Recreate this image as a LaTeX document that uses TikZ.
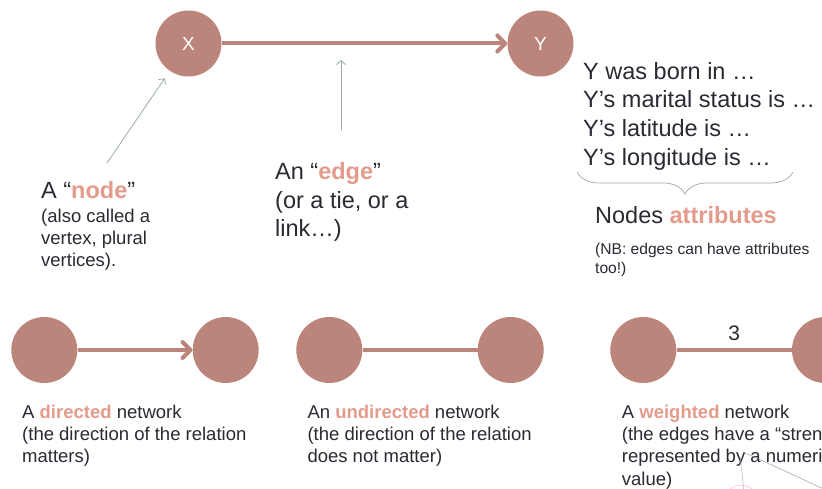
\documentclass[tikz,border=0pt]{standalone}
\usepackage{fontspec}
\setmainfont{Liberation Sans}
\usetikzlibrary{arrows.meta,decorations.pathreplacing}
\definecolor{vert}{HTML}{BC857B}
\definecolor{hl}{HTML}{E49B8C}
\definecolor{ink}{HTML}{2A2A33}
\definecolor{pointer}{HTML}{9AABA5}
\newcommand{\hi}[1]{\textcolor{hl}{\textbf{#1}}}
% multi-line labels are placed by the baseline of their last line
\tikzset{
  vertex/.style={circle, fill=vert, minimum size=66pt, inner sep=0pt,
    text=white, font=\fontsize{19}{23}\selectfont},
  tie/.style={draw=vert, line width=4pt},
  arc/.style={tie, -{Straight Barb[length=8pt, width=16pt, round]}},
  pointer/.style={draw=pointer, line width=0.8pt,
    -{Straight Barb[length=4pt, width=9pt]}},
  lbl/.style={anchor=base west, inner sep=0pt, text=ink, align=left},
  big/.style={font=\fontsize{23.5}{28.6}\selectfont},
  mid/.style={font=\fontsize{18.5}{22.2}\selectfont},
  small/.style={font=\fontsize{15.6}{19}\selectfont},
}
\begin{document}
\begin{tikzpicture}[x=1pt, y=-1pt]
\clip (0,0) rectangle (822,489);
\fill[white] (0,0) rectangle (822,489);

% top: one directed edge between two vertices
\node[vertex] (X) at (188.5,43.5) {X};
\node[vertex] (Y) at (540.5,43.5) {Y};
\draw[arc] (X) -- (Y);

% explanations for the node and the edge
\node[lbl, big] (nodeT) at (41,199) {A “\hi{node}”};
\node[lbl, mid] (nodeB) at (41,266.7) {(also called a\\vertex, plural\\vertices).};
\node[lbl, big] (edgeT) at (275,236.7) {An “\hi{edge}”\\(or a tie, or a\\link…)};
\coordinate (p1) at (107,163);
\draw[pointer, shorten >=9pt] (p1) -- (X);
\coordinate (p2) at (341,130);
\coordinate (p2tip) at (341,60);
\draw[pointer] (p2) -- (p2tip);

% attributes of Y
\node[lbl, big] (attrs) at (583,165.1) {Y was born in …\\Y’s marital status is …\\Y’s latitude is …\\Y’s longitude is …};
\coordinate (bl) at (577,172);
\coordinate (br) at (793,172);
\draw[pointer, -, line width=0.7pt, decorate,
  decoration={brace, mirror, amplitude=22pt, aspect=0.5}] (bl) -- (br);
\node[lbl, big] (attrT) at (595,223.3) {Nodes \hi{attributes}};
\node[lbl, small] (attrN) at (595,273) {(NB: edges can have attributes\\too!)};

% bottom: three kinds of network
\node[vertex] (a1) at (44.3,350) {};
\node[vertex] (a2) at (225.7,350) {};
\draw[arc] (a1) -- (a2);
\node[lbl, mid] (aT) at (22,462.7) {A \hi{directed} network\\(the direction of the relation\\matters)};

\node[vertex] (b1) at (329.3,350) {};
\node[vertex] (b2) at (510.7,350) {};
\draw[tie] (b1) -- (b2);
\node[lbl, mid] (bT) at (307.3,462.7) {An \hi{undirected} network\\(the direction of the relation\\does not matter)};

\node[vertex] (c1) at (643.3,350) {};
\node[vertex] (c2) at (825,350) {};
\draw[tie] (c1) -- node[above=4pt, text=ink, font=\fontsize{21}{24}\selectfont] (w) {3} (c2);
\node[lbl, mid] (cT) at (621.7,485) {A \hi{weighted} network\\(the edges have a “strength”\\represented by a numeric\\value)};

% faint sketch in the corner
\draw[black!45, line width=0.8pt, opacity=0.6] (743,452) .. controls (770,464) and (800,478) .. (830,492);
\draw[black!35, line width=0.7pt, opacity=0.6] (740,457) .. controls (742,470) and (743,482) .. (744,495);
\draw[magenta!40, line width=0.8pt, opacity=0.5] (730,489) .. controls (736,484) and (746,484) .. (752,489);
\end{tikzpicture}
\end{document}
